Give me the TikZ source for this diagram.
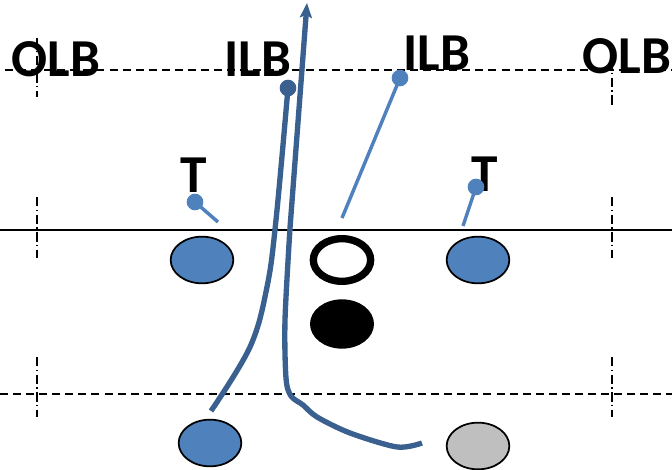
\documentclass[tikz,border=0pt]{standalone}
\usepackage{fontspec}
\setmainfont{Carlito}
\usetikzlibrary{shapes.geometric,arrows.meta}

\definecolor{offblue}{HTML}{4F81BD}
\definecolor{runblue}{HTML}{3A6090}
\definecolor{rbgray}{HTML}{BFBFBF}

\begin{document}
\begin{tikzpicture}[x=0.75pt, y=-0.75pt]
        \tikzstyle{player} = [draw, ellipse, line width=1.3pt, fill=offblue, minimum width=47pt, minimum height=35pt, inner sep=0pt];
        \tikzstyle{dot} = [circle, inner sep=0pt, minimum size=12.5pt];
        \tikzstyle{label} = [anchor=base, inner sep=0pt, font=\fontsize{40}{44}\selectfont\bfseries];
        \tikzstyle{yardline} = [line width=1.6pt, dash pattern=on 6pt off 3.8pt];
        \tikzstyle{hash} = [line width=1.4pt, dash pattern=on 7pt off 2.5pt on 1.2pt off 2.5pt];
        \tikzstyle{thin} = [offblue, line width=2.6pt];
        \tikzstyle{run} = [runblue, line width=4pt];

        \useasboundingbox (0,0) rectangle (672,470);

        % field markings
        \draw[yardline] (5,70) -- (672,70);
        \draw[yardline] (0,394) -- (672,394);
        \draw[line width=1.8pt] (0,230) -- (672,230);
        \foreach \x/\ya/\yb in {37/38/97, 37/197/258, 37/357/417, 612/60/107, 612/197/258, 612/357/417}
            \draw[hash] (\x,\ya) -- (\x,\yb);

        % offense
        \node(lguard)[player] at (202,260){};
        \node(rguard)[player] at (478,260){};
        \node(center)[ellipse, draw, line width=5.5pt, minimum width=43pt, minimum height=32pt, inner sep=0pt] at (342,260){};
        \node(qb)[ellipse, fill=black, minimum width=48pt, minimum height=37pt, inner sep=0pt] at (342,324){};
        \node(back)[player] at (210,443){};
        \node(rb)[player, fill=rbgray] at (478,446){};

        % defense
        \node(olbl)[label] at (56,77){OLB};
        \node(ilbl)[label] at (258,77){ILB};
        \node(ilbr)[label] at (437,71){ILB};
        \node(olbr)[label] at (627,74){OLB};
        \node(tl)[label] at (194,193){T};
        \node(tr)[label] at (485,192){T};

        \node(tldot)[dot, fill=offblue] at (195,202){};
        \node(trdot)[dot, fill=offblue] at (476,187){};
        \node(ilbrdot)[dot, fill=offblue] at (400,78){};
        \node(ilbldot)[dot, fill=runblue] at (288,88){};

        \coordinate(tlend) at (218,222);
        \coordinate(trend) at (463,226);
        \coordinate(ilbrend) at (342,218);
        \coordinate(ilblend) at (211,411);
        \coordinate(rbstart) at (422,443);
        \coordinate(tip) at (307,3);

        \draw[thin] (tldot.center) -- (tlend);
        \draw[thin] (trdot.center) -- (trend);
        \draw[thin] (ilbrdot.center) -- (ilbrend);

        % blitz and running lane
        \draw[run] plot[smooth, tension=0.6] coordinates {(ilbldot.center) (276,220) (267,287) (250,347) (ilblend)};
        \draw[run, -{Stealth[length=11pt, width=9pt, inset=2pt]}] plot[smooth, tension=0.5] coordinates {(rbstart) (397,447) (350,433) (317,417) (303,405) (291,396) (286,378) (285,320) (290,228)} -- (tip);
\end{tikzpicture}
\end{document}
